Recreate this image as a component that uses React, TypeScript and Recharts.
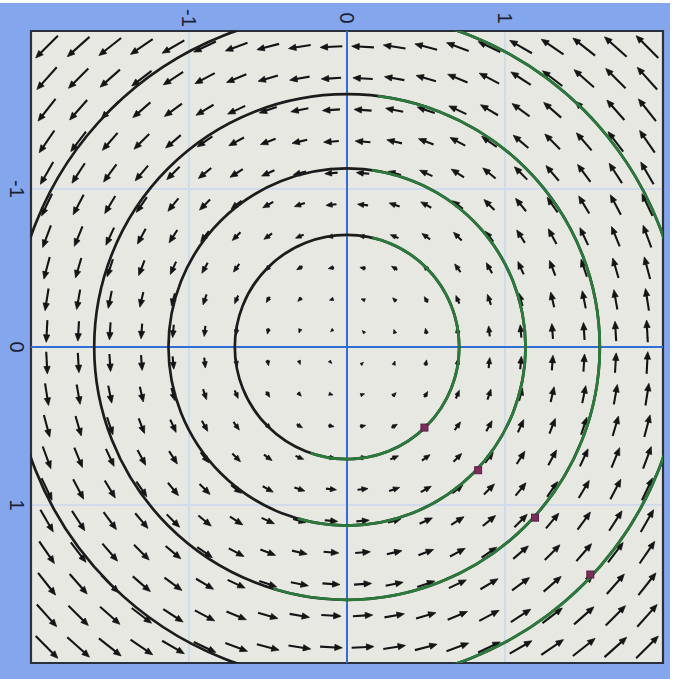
import React from "react";
import {
  ScatterChart,
  Scatter,
  XAxis,
  YAxis,
  CartesianGrid,
  ReferenceLine,
  ReferenceArea,
} from "recharts";

// layout
const CHART_W = 678;
const CHART_H = 679;
const AXIS_SIZE = 31;
const PLOT_SIZE = 632;
const DOMAIN: [number, number] = [-2, 2];
const PX_PER_UNIT = PLOT_SIZE / (DOMAIN[1] - DOMAIN[0]);

// axes
const TICKS = [-1, 0, 1];

// quiver grid (same along x and y)
const GRID = [
  -1.9, -1.7, -1.5, -1.3, -1.1, -0.9, -0.7, -0.5, -0.3, -0.1,
  0.1, 0.3, 0.5, 0.7, 0.9, 1.1, 1.3, 1.5, 1.7, 1.9,
];
const ARROW_SCALE = 0.074; // drawn length per unit of field

// exact orbits (radius) and the green trajectory arcs on them (deg, screen)
const CIRCLE_RADII = [0.71, 1.13, 1.6, 2.12];
const GREEN_FROM = [-77, -82, -83, -83];
const GREEN_TO = [109, 106, 107, 107];

// start points of the trajectories
const DOT_X = [0.49, 0.83, 1.19, 1.54];
const DOT_Y = [0.51, 0.78, 1.08, 1.44];

const arrowData = GRID.flatMap((y) => GRID.map((x) => ({ x, y })));
const ringData = CIRCLE_RADII.map((r, i) => ({
  x: 0,
  y: 0,
  r,
  g0: GREEN_FROM[i],
  g1: GREEN_TO[i],
}));
const dotData = DOT_X.map((x, i) => ({ x, y: DOT_Y[i] }));

const FONT = "'Liberation Sans', Arial, sans-serif";

function ArrowShape(props: any) {
  const { cx, cy, payload } = props;
  // rotational field, y axis pointing down
  const u = payload.y;
  const v = -payload.x;
  const k = ARROW_SCALE * PX_PER_UNIT;
  const dx = u * k;
  const dy = v * k;
  const len = Math.hypot(dx, dy);
  if (!len) return null;
  const ux = dx / len;
  const uy = dy / len;
  const hx = cx + dx / 2;
  const hy = cy + dy / 2;
  const tx = cx - dx / 2;
  const ty = cy - dy / 2;
  const headLen = Math.min(7.5, 2.8 + 0.32 * len);
  const headW = headLen * 0.42;
  const bx = hx - ux * headLen;
  const by = hy - uy * headLen;
  const pts = `${hx},${hy} ${bx - uy * headW},${by + ux * headW} ${bx + uy * headW},${by - ux * headW}`;
  return (
    <g>
      {len > headLen && (
        <line x1={tx} y1={ty} x2={bx + ux} y2={by + uy} stroke="#141414" strokeWidth={2.1} />
      )}
      <polygon points={pts} fill="#141414" stroke="#141414" strokeWidth={0.7} strokeLinejoin="round" />
    </g>
  );
}

function RingShape(props: any) {
  const { cx, cy, payload } = props;
  const r = payload.r * PX_PER_UNIT;
  const a0 = (payload.g0 * Math.PI) / 180;
  const a1 = (payload.g1 * Math.PI) / 180;
  const x0 = cx + r * Math.cos(a0);
  const y0 = cy + r * Math.sin(a0);
  const x1 = cx + r * Math.cos(a1);
  const y1 = cy + r * Math.sin(a1);
  const large = payload.g1 - payload.g0 > 180 ? 1 : 0;
  return (
    <g>
      <circle cx={cx} cy={cy} r={r} fill="none" stroke="#1c1c1c" strokeWidth={2.7} />
      <path
        d={`M${x0},${y0} A${r},${r} 0 ${large} 1 ${x1},${y1}`}
        fill="none"
        stroke="#2b7a3c"
        strokeWidth={2.8}
      />
    </g>
  );
}

function DotShape(props: any) {
  const { cx, cy } = props;
  return (
    <rect x={cx - 3.5} y={cy - 3.5} width={7} height={7} fill="#7b2d5c" stroke="#5a2048" strokeWidth={1} />
  );
}

function XTick(props: any) {
  const { x, payload } = props;
  return (
    <text
      transform={`translate(${x},18) rotate(90)`}
      textAnchor="middle"
      dominantBaseline="central"
      fontSize={20}
      fontFamily={FONT}
      fill="#1b2033"
    >
      {payload.value}
    </text>
  );
}

function YTick(props: any) {
  const { y, payload } = props;
  return (
    <text
      transform={`translate(17,${y}) rotate(90)`}
      textAnchor="middle"
      dominantBaseline="central"
      fontSize={20}
      fontFamily={FONT}
      fill="#1b2033"
    >
      {payload.value}
    </text>
  );
}

export default function App() {
  return (
    <div
      style={{
        position: "absolute",
        left: 0,
        top: 0,
        width: CHART_W,
        height: CHART_H,
        background: "#ffffff",
        overflow: "hidden",
      }}
    >
      {/* blue frame */}
      <div
        style={{
          position: "absolute",
          left: 0,
          top: 3,
          width: 670,
          height: 676,
          background: "#84a6ed",
        }}
      />
      <div style={{ position: "absolute", left: 0, top: 0 }}>
        <ScatterChart
          width={CHART_W}
          height={CHART_H}
          margin={{ top: 0, right: CHART_W - AXIS_SIZE - PLOT_SIZE, bottom: CHART_H - AXIS_SIZE - PLOT_SIZE, left: 0 }}
        >
          <CartesianGrid fill="#e8e8e3" stroke="#d2daee" strokeWidth={2} />
          <XAxis
            type="number"
            dataKey="x"
            orientation="top"
            domain={DOMAIN}
            ticks={TICKS}
            height={AXIS_SIZE}
            axisLine={false}
            tickLine={false}
            tick={<XTick />}
            allowDataOverflow
          />
          <YAxis
            type="number"
            dataKey="y"
            domain={DOMAIN}
            ticks={TICKS}
            reversed
            width={AXIS_SIZE}
            axisLine={false}
            tickLine={false}
            tick={<YTick />}
            allowDataOverflow
          />
          <ReferenceLine x={0} stroke="#2f6ed2" strokeWidth={2} />
          <ReferenceLine y={0} stroke="#2f6ed2" strokeWidth={2} />
          <Scatter data={arrowData} shape={<ArrowShape />} isAnimationActive={false} />
          <Scatter data={ringData} shape={<RingShape />} isAnimationActive={false} />
          <Scatter data={dotData} shape={<DotShape />} isAnimationActive={false} />
          <ReferenceArea
            x1={DOMAIN[0]}
            x2={DOMAIN[1]}
            y1={DOMAIN[0]}
            y2={DOMAIN[1]}
            fill="none"
            fillOpacity={0}
            stroke="#2a303c"
            strokeWidth={2.2}
          />
        </ScatterChart>
      </div>
    </div>
  );
}
